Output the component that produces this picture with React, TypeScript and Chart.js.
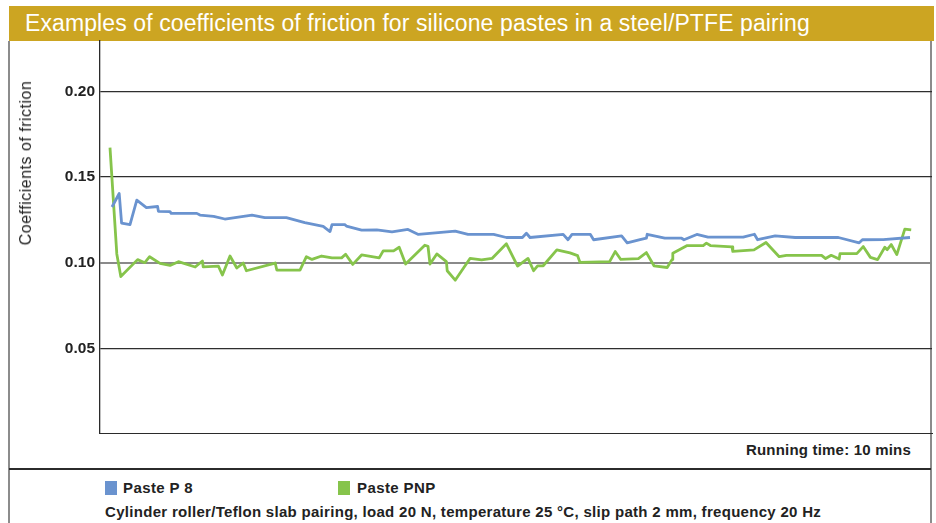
import React, { useEffect, useRef } from "react";
import { Chart, registerables } from "chart.js";

Chart.register(...registerables);

const titleText = "Examples of coefficients of friction for silicone pastes in a steel/PTFE pairing";
const yAxisTitle = "Coefficients of friction";
const xAxisNote = "Running time: 10 mins";
const footNote = "Cylinder roller/Teflon slab pairing, load 20 N, temperature 25 °C, slip path 2 mm, frequency 20 Hz";
const seriesNames = ["Paste P 8", "Paste PNP"];
const seriesColors = ["#6A93CF", "#86C44B"];
const yTicks = [0.05, 0.1, 0.15, 0.2];
const yMin = 0;
const yMax = 0.23;
const xMin = 0;
const xMax = 10.4; // minutes

// Paste P 8 (blue): running time [min] and coefficient of friction
const p8Time = [0.15, 0.24, 0.27, 0.375, 0.46, 0.58, 0.72, 0.73, 0.875, 0.89, 1.21, 1.25, 1.42, 1.56, 1.9, 2.06, 2.33, 2.56, 2.79, 2.875, 2.9, 3.06, 3.08, 3.27, 3.46, 3.65, 3.85, 3.98, 4.44, 4.6, 4.92, 5.08, 5.28, 5.33, 5.375, 5.79, 5.85, 5.9, 6.13, 6.17, 6.52, 6.59, 6.75, 6.83, 6.84, 7.06, 7.27, 7.3, 7.46, 7.6, 8.04, 8.18, 8.22, 8.44, 8.69, 9.23, 9.49, 9.53, 9.79, 10.125];
const p8Values = [0.1325, 0.1404, 0.1231, 0.1222, 0.1365, 0.1322, 0.1328, 0.13, 0.1298, 0.1288, 0.1288, 0.1278, 0.1271, 0.1255, 0.1278, 0.1263, 0.1263, 0.1234, 0.1212, 0.1182, 0.1222, 0.1222, 0.1214, 0.119, 0.1192, 0.118, 0.1194, 0.1165, 0.1184, 0.1165, 0.1165, 0.1147, 0.1147, 0.1172, 0.1147, 0.1165, 0.1134, 0.1165, 0.1165, 0.1134, 0.1157, 0.1116, 0.1135, 0.1143, 0.1166, 0.1143, 0.1143, 0.1134, 0.1165, 0.1149, 0.1149, 0.1166, 0.1134, 0.1157, 0.1147, 0.1147, 0.1116, 0.1134, 0.1135, 0.1147];

// Paste PNP (green)
const pnpTime = [0.125, 0.21, 0.26, 0.47, 0.56, 0.62, 0.75, 0.875, 0.98, 1.19, 1.28, 1.29, 1.48, 1.53, 1.625, 1.71, 1.79, 1.83, 2.19, 2.21, 2.5, 2.58, 2.65, 2.77, 2.9, 3.02, 3.07, 3.16, 3.27, 3.49, 3.54, 3.67, 3.74, 3.82, 4.06, 4.1, 4.125, 4.21, 4.33, 4.34, 4.44, 4.625, 4.77, 4.9, 5.08, 5.22, 5.35, 5.42, 5.47, 5.54, 5.71, 5.875, 5.97, 6.0, 6.37, 6.44, 6.51, 6.73, 6.83, 6.925, 7.09, 7.15, 7.16, 7.34, 7.54, 7.58, 7.63, 7.9, 7.91, 8.175, 8.325, 8.49, 8.58, 9.02, 9.07, 9.14, 9.24, 9.25, 9.46, 9.54, 9.63, 9.72, 9.81, 9.84, 9.89, 9.96, 10.06, 10.14];
const pnpValues = [0.1672, 0.1051, 0.0919, 0.1018, 0.1, 0.1035, 0.0996, 0.0984, 0.1006, 0.0975, 0.101, 0.0976, 0.098, 0.0928, 0.1039, 0.0969, 0.0998, 0.0953, 0.0998, 0.0957, 0.0957, 0.1035, 0.1019, 0.1039, 0.1028, 0.1028, 0.1049, 0.099, 0.1045, 0.1028, 0.1069, 0.1069, 0.109, 0.0992, 0.1102, 0.1096, 0.0992, 0.1051, 0.1006, 0.0953, 0.0898, 0.1025, 0.1016, 0.1025, 0.111, 0.098, 0.1025, 0.0953, 0.0982, 0.0982, 0.1075, 0.1057, 0.1041, 0.1002, 0.1006, 0.1065, 0.1019, 0.1024, 0.1059, 0.0982, 0.0972, 0.1018, 0.1055, 0.11, 0.11, 0.1114, 0.11, 0.1092, 0.1066, 0.1075, 0.1118, 0.1035, 0.1043, 0.1043, 0.1024, 0.1043, 0.1022, 0.1053, 0.1053, 0.1094, 0.1031, 0.1018, 0.109, 0.1076, 0.1106, 0.1047, 0.1196, 0.1192];

const FONT = "'Liberation Sans', Arial, Helvetica, sans-serif";

function toPoints(xs: number[], ys: number[]) {
  return xs.map((x, i) => ({ x, y: ys[i] }));
}

export default function App() {
  const canvasRef = useRef<HTMLCanvasElement | null>(null);

  useEffect(() => {
    document.body.style.margin = "0";
    const canvas = canvasRef.current;
    if (!canvas) return;
    const chart = new Chart(canvas, {
      type: "line",
      data: {
        datasets: [
          {
            label: seriesNames[0],
            data: toPoints(p8Time, p8Values),
            borderColor: seriesColors[0],
            backgroundColor: seriesColors[0],
            borderWidth: 2.8,
            pointRadius: 0,
            tension: 0,
            borderJoinStyle: "round",
          },
          {
            label: seriesNames[1],
            data: toPoints(pnpTime, pnpValues),
            borderColor: seriesColors[1],
            backgroundColor: seriesColors[1],
            borderWidth: 2.8,
            pointRadius: 0,
            tension: 0,
            borderJoinStyle: "round",
          },
        ],
      },
      options: {
        animation: false,
        responsive: false,
        maintainAspectRatio: false,
        layout: { padding: { left: 0, right: 4, top: 0, bottom: 0 } },
        plugins: { legend: { display: false }, tooltip: { enabled: false } },
        scales: {
          x: {
            type: "linear",
            min: xMin,
            max: xMax,
            ticks: { display: false },
            grid: { display: false, drawTicks: false },
            border: { display: true, color: "#2b2b2b", width: 1.5 },
            afterFit: (s: any) => {
              s.height = 0;
              s.paddingLeft = 0;
              s.paddingRight = 0;
            },
          },
          y: {
            type: "linear",
            min: yMin,
            max: yMax,
            afterBuildTicks: (s: any) => {
              s.ticks = yTicks.map((v) => ({ value: v }));
            },
            ticks: {
              padding: 5,
              color: "#222",
              font: { family: FONT, size: 15.5, weight: "bold" },
              callback: (v: any) => Number(v).toFixed(2),
            },
            grid: {
              drawTicks: false,
              color: (ctx: any) => (ctx.tick && Math.abs(ctx.tick.value - 0.1) < 1e-6 ? "#8a8a8a" : "#2e2e2e"),
              lineWidth: (ctx: any) => (ctx.tick && Math.abs(ctx.tick.value - 0.1) < 1e-6 ? 2 : 1.3),
            },
            border: { display: true, color: "#2b2b2b", width: 1.3 },
            afterFit: (s: any) => {
              s.width = 100;
              s.paddingTop = 0;
              s.paddingBottom = 0;
            },
          },
        },
      },
    });
    return () => chart.destroy();
  }, []);

  const textColor = "#222";
  return (
    <div style={{ position: "absolute", left: 0, top: 0, width: 936, height: 523, background: "#fff", overflow: "hidden", fontFamily: FONT }}>
      {/* title bar */}
      <div
        style={{
          position: "absolute",
          left: 9,
          top: 6,
          width: 925,
          height: 35,
          background: "#CCA522",
          color: "#fff",
          fontSize: 23,
          letterSpacing: 0.1,
          lineHeight: "35px",
          paddingLeft: 16,
          boxSizing: "border-box",
          whiteSpace: "nowrap",
        }}
      >
        {titleText}
      </div>
      {/* frame */}
      <div style={{ position: "absolute", left: 8, top: 41, width: 2, height: 482, background: "#8c8c8c" }} />
      <div style={{ position: "absolute", left: 930, top: 41, width: 2, height: 482, background: "#8c8c8c" }} />
      <div style={{ position: "absolute", left: 9, top: 468, width: 922, height: 1.5, background: "#2b2b2b" }} />
      {/* chart */}
      <canvas ref={canvasRef} width={936} height={394} style={{ position: "absolute", left: 0, top: 40, width: 936, height: 394 }} />
      {/* y axis title */}
      <div
        style={{
          position: "absolute",
          left: 26,
          top: 163,
          transform: "translate(-50%, -50%) rotate(-90deg)",
          whiteSpace: "nowrap",
          fontSize: 16,
          letterSpacing: 0.5,
          color: textColor,
        }}
      >
        {yAxisTitle}
      </div>
      {/* running time note */}
      <div style={{ position: "absolute", right: 936 - 911, top: 441, fontSize: 15, letterSpacing: 0.2, fontWeight: "bold", color: textColor, whiteSpace: "nowrap" }}>
        {xAxisNote}
      </div>
      {/* legend */}
      <div style={{ position: "absolute", left: 105, top: 481, width: 12, height: 14, background: seriesColors[0] }} />
      <div style={{ position: "absolute", left: 123, top: 479, fontSize: 15, letterSpacing: 0.4, fontWeight: "bold", color: textColor, whiteSpace: "nowrap" }}>
        {seriesNames[0]}
      </div>
      <div style={{ position: "absolute", left: 338, top: 481, width: 12, height: 14, background: seriesColors[1] }} />
      <div style={{ position: "absolute", left: 357, top: 479, fontSize: 15, letterSpacing: 0.4, fontWeight: "bold", color: textColor, whiteSpace: "nowrap" }}>
        {seriesNames[1]}
      </div>
      {/* footnote */}
      <div style={{ position: "absolute", left: 105, top: 503, fontSize: 15, letterSpacing: 0.3, fontWeight: "bold", color: textColor, whiteSpace: "nowrap" }}>
        {footNote}
      </div>
    </div>
  );
}
